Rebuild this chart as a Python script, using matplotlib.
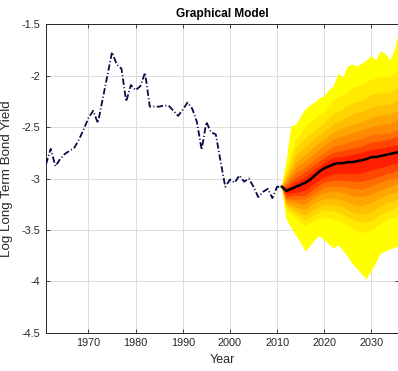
import numpy as np
import matplotlib
matplotlib.use("Agg")
import matplotlib.pyplot as plt
from matplotlib.ticker import FuncFormatter

plt.rcParams['font.family'] = ['Liberation Sans', 'DejaVu Sans']
plt.rcParams['axes.unicode_minus'] = False

# observed log long-term bond yield, 1961-2011
hist_years = np.arange(1961, 2012)
hist_yield = [-2.86, -2.71, -2.88, -2.81, -2.76, -2.73, -2.70, -2.62, -2.52, -2.41,
              -2.34, -2.46, -2.23, -2.00, -1.77, -1.89, -1.93, -2.25, -2.09, -2.14,
              -2.10, -1.97, -2.30, -2.30, -2.30, -2.29, -2.29, -2.34, -2.39, -2.33,
              -2.26, -2.32, -2.45, -2.72, -2.45, -2.55, -2.57, -2.83, -3.08, -3.01,
              -3.04, -2.97, -3.03, -3.00, -3.08, -3.18, -3.13, -3.10, -3.19, -3.08,
              -3.08]

# forecast median and outer envelope, yearly
fc_years = np.arange(2011, 2037)
fc_median = [-3.08, -3.12, -3.10, -3.08, -3.06, -3.04, -3.01, -2.97, -2.93, -2.90,
             -2.88, -2.86, -2.85, -2.85, -2.84, -2.84, -2.83, -2.82, -2.81, -2.79,
             -2.79, -2.78, -2.77, -2.76, -2.75, -2.74]
fc_outer_hi = [-3.08, -2.83, -2.49, -2.48, -2.40, -2.33, -2.29, -2.26, -2.22, -2.20,
               -2.14, -2.10, -1.98, -2.02, -1.91, -1.89, -1.91, -1.88, -1.85, -1.81,
               -1.85, -1.76, -1.79, -1.85, -1.74, -1.55]
fc_outer_lo = [-3.08, -3.40, -3.48, -3.55, -3.62, -3.71, -3.66, -3.60, -3.56, -3.60,
               -3.64, -3.68, -3.65, -3.70, -3.76, -3.83, -3.88, -3.93, -3.98, -3.90,
               -3.82, -3.73, -3.71, -3.69, -3.67, -3.66]

# inner quantile bands, every other year
band_years = [2011, 2012, 2014, 2016, 2018, 2020, 2022, 2024, 2026, 2028, 2030, 2032, 2034, 2036]
band_hi = [
    [-3.08, -2.91, -2.62, -2.50, -2.42, -2.35, -2.24, -2.19, -2.12, -2.09, -2.04, -2.01, -2.01, -1.93],
    [-3.08, -2.96, -2.71, -2.61, -2.54, -2.46, -2.37, -2.33, -2.27, -2.24, -2.19, -2.17, -2.17, -2.10],
    [-3.08, -2.99, -2.79, -2.70, -2.62, -2.55, -2.47, -2.43, -2.38, -2.35, -2.31, -2.29, -2.28, -2.23],
    [-3.08, -3.01, -2.85, -2.77, -2.69, -2.62, -2.55, -2.51, -2.48, -2.45, -2.41, -2.39, -2.38, -2.33],
    [-3.08, -3.04, -2.90, -2.83, -2.76, -2.68, -2.62, -2.59, -2.56, -2.53, -2.50, -2.48, -2.47, -2.42],
    [-3.08, -3.06, -2.95, -2.89, -2.82, -2.75, -2.69, -2.67, -2.64, -2.62, -2.58, -2.57, -2.56, -2.52],
    [-3.08, -3.08, -3.00, -2.94, -2.87, -2.80, -2.75, -2.73, -2.71, -2.69, -2.65, -2.64, -2.62, -2.59],
    [-3.08, -3.10, -3.04, -2.99, -2.92, -2.85, -2.80, -2.79, -2.77, -2.75, -2.72, -2.71, -2.69, -2.67],
]
band_lo = [
    [-3.08, -3.31, -3.39, -3.47, -3.41, -3.38, -3.40, -3.43, -3.49, -3.53, -3.51, -3.44, -3.39, -3.36],
    [-3.08, -3.28, -3.35, -3.41, -3.35, -3.31, -3.32, -3.35, -3.40, -3.43, -3.42, -3.35, -3.31, -3.27],
    [-3.08, -3.26, -3.32, -3.36, -3.30, -3.26, -3.26, -3.28, -3.33, -3.35, -3.33, -3.27, -3.23, -3.20],
    [-3.08, -3.24, -3.28, -3.31, -3.24, -3.20, -3.20, -3.21, -3.25, -3.27, -3.24, -3.19, -3.15, -3.13],
    [-3.08, -3.22, -3.24, -3.26, -3.19, -3.14, -3.13, -3.14, -3.17, -3.18, -3.16, -3.11, -3.08, -3.05],
    [-3.08, -3.20, -3.21, -3.21, -3.15, -3.09, -3.08, -3.08, -3.10, -3.11, -3.08, -3.04, -3.01, -2.99],
    [-3.08, -3.18, -3.17, -3.17, -3.10, -3.04, -3.02, -3.02, -3.03, -3.03, -3.01, -2.98, -2.95, -2.92],
    [-3.08, -3.15, -3.14, -3.12, -3.05, -2.99, -2.96, -2.95, -2.96, -2.95, -2.92, -2.90, -2.87, -2.85],
]
band_colors = ['#FFFF00', '#FFEA00', '#FFD400', '#FFBE00', '#FFA500',
               '#FF8A00', '#FF6C00', '#FF4600', '#FF1E00']

fig = plt.figure(figsize=(3.98, 3.71), dpi=100)
ax = fig.add_axes([0.1156, 0.1032, 0.8864, 0.831])

# outer envelope first, then each inner band painted on top
ax.fill(np.concatenate([fc_years, fc_years[::-1]]),
        np.concatenate([fc_outer_hi, fc_outer_lo[::-1]]),
        color=band_colors[0], lw=0, zorder=2)
for hi, lo, col in zip(band_hi, band_lo, band_colors[1:]):
    ax.fill(band_years + band_years[::-1], hi + lo[::-1], color=col, lw=0, zorder=2)

ax.plot(fc_years, fc_median, color='black', lw=1.8, zorder=4)
ax.plot(hist_years, hist_yield, color='#0a0a48', lw=1.3,
        dashes=[3.5, 1.3, 0.6, 1.3], zorder=5)

ax.set_xlim(1961, 2035.8)
ax.set_ylim(-4.5, -1.5)
ax.set_xticks([1970, 1980, 1990, 2000, 2010, 2020, 2030])
ax.set_yticks([-4.5, -4, -3.5, -3, -2.5, -2, -1.5])
ax.yaxis.set_major_formatter(FuncFormatter(lambda v, p: '%g' % v))
ax.grid(True, color='#dcdcdc', lw=0.7)
ax.set_axisbelow(True)
ax.tick_params(direction='in', length=3, width=0.6, colors='#262626',
               labelsize=7.8, top=True, right=True, pad=4)
for s in ax.spines.values():
    s.set_color('#262626')
    s.set_linewidth(0.7)

ax.set_title('Graphical Model', fontsize=8.6, fontweight='bold', color='black', pad=5)
ax.set_xlabel('Year', fontsize=9, color='#262626', labelpad=4)
ax.set_ylabel('Log Long Term Bond Yield', fontsize=9.6, color='#262626', labelpad=6)

fig.savefig('out.png', dpi=100)
